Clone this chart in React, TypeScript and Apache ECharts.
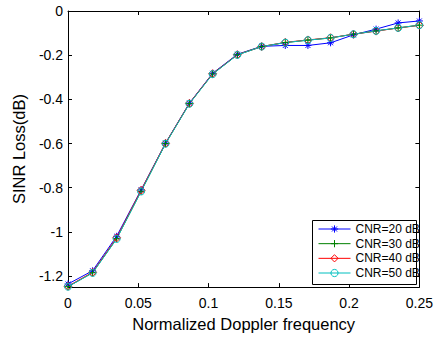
import React, { useEffect, useRef } from "react";
import * as echarts from "echarts";

const xValues = [0, 0.0175, 0.0346, 0.052, 0.0694, 0.0864, 0.1029, 0.1205, 0.1378, 0.1546, 0.1707, 0.1868, 0.2031, 0.2192, 0.2349, 0.25];
const cnr20 = [-1.236, -1.176, -1.02, -0.81, -0.598, -0.417, -0.282, -0.196, -0.16, -0.156, -0.156, -0.144, -0.108, -0.082, -0.054, -0.045];
const cnr30 = [-1.248, -1.185, -1.031, -0.816, -0.6, -0.419, -0.285, -0.198, -0.161, -0.143, -0.132, -0.122, -0.105, -0.09, -0.0765, -0.064];
const cnr40 = [-1.246, -1.183, -1.027, -0.812, -0.599, -0.418, -0.284, -0.198, -0.161, -0.142, -0.131, -0.121, -0.105, -0.091, -0.077, -0.065];
const cnr50 = [-1.248, -1.186, -1.032, -0.817, -0.601, -0.42, -0.286, -0.199, -0.161, -0.143, -0.132, -0.122, -0.105, -0.09, -0.0765, -0.064];
const seriesNames = ["CNR=20 dB", "CNR=30 dB", "CNR=40 dB", "CNR=50 dB"];
const yTicks = [0, -0.2, -0.4, -0.6, -0.8, -1, -1.2];

const FONT = "'Liberation Sans', Arial, sans-serif";
const STAR = "path://M0,-1L0,1M-1,0L1,0M-0.7,-0.7L0.7,0.7M-0.7,0.7L0.7,-0.7";
const PLUS = "path://M0,-1L0,1M-1,0L1,0";

const styles = [
  { color: "#0000ff", symbol: STAR, fill: "rgba(0,0,0,0)", size: 7 },
  { color: "#008000", symbol: PLUS, fill: "rgba(0,0,0,0)", size: 7 },
  { color: "#ff0000", symbol: "diamond", fill: "rgba(0,0,0,0)", size: 8 },
  { color: "#00bfbf", symbol: "circle", fill: "rgba(0,0,0,0)", size: 7 },
];

export default function App() {
  const ref = useRef<HTMLDivElement>(null);
  useEffect(() => {
    if (!ref.current) return;
    const chart = echarts.init(ref.current, undefined, { renderer: "svg" });
    const allValues = [cnr20, cnr30, cnr40, cnr50];
    const mk = (vals: number[]) => xValues.map((x, i) => [x, vals[i]]);
    const axisCommon = {
      axisLine: { show: true, onZero: false, lineStyle: { color: "#000", width: 1 } },
      axisTick: { show: true, inside: true, length: 4, lineStyle: { color: "#000" } },
      splitLine: { show: false },
    };
    const option: any = {
      animation: false,
      grid: { left: 68, top: 11, right: 16, bottom: 48 },
      xAxis: [
        {
          type: "value",
          min: 0,
          max: 0.25,
          interval: 0.05,
          position: "bottom",
          ...axisCommon,
          axisLabel: { color: "#000", fontSize: 14, fontFamily: FONT, margin: 9 },
          name: "Normalized Doppler frequency",
          nameLocation: "middle",
          nameGap: 24,
          nameTextStyle: { color: "#000", fontSize: 16.5, fontFamily: FONT },
        },
        {
          type: "value",
          min: 0,
          max: 0.25,
          interval: 0.05,
          position: "top",
          ...axisCommon,
          axisLabel: { show: false },
        },
      ],
      yAxis: [
        {
          type: "value",
          min: -1.25,
          max: 0,
          position: "left",
          ...axisCommon,
          axisTick: { ...axisCommon.axisTick, customValues: yTicks },
          axisLabel: { color: "#000", fontSize: 14, fontFamily: FONT, margin: 5, customValues: yTicks },
          name: "SINR Loss(dB)",
          nameLocation: "middle",
          nameGap: 35,
          nameTextStyle: { color: "#000", fontSize: 16.5, fontFamily: FONT },
        },
        {
          type: "value",
          min: -1.25,
          max: 0,
          position: "right",
          ...axisCommon,
          axisTick: { ...axisCommon.axisTick, customValues: yTicks },
          axisLabel: { show: false, customValues: yTicks },
        },
      ],
      legend: {
        orient: "vertical",
        left: 318,
        top: 222,
        itemWidth: 32,
        itemHeight: 9,
        itemGap: 0.67,
        padding: 0,
        z: 5,
        selectedMode: false,
        textStyle: { color: "#000", fontSize: 12, fontFamily: FONT, lineHeight: 14 },
        data: seriesNames.map((name, k) => ({
          name,
          itemStyle: { color: styles[k].fill, borderColor: styles[k].color, borderWidth: 1 },
          lineStyle: { color: styles[k].color, width: 1 },
        })),
      },
      graphic: [
        {
          type: "rect",
          z: 3,
          shape: { x: 312.5, y: 220.5, width: 104, height: 64 },
          style: { fill: "#fff", stroke: "#000", lineWidth: 1 },
        },
      ],
      series: seriesNames.map((name, k) => ({
        type: "line",
        name,
        data: mk(allValues[k]),
        symbol: styles[k].symbol,
        symbolSize: styles[k].size,
        lineStyle: { color: styles[k].color, width: 1 },
        itemStyle: { color: styles[k].fill, borderColor: styles[k].color, borderWidth: 1 },
        emphasis: { disabled: true },
        silent: true,
      })),
    };
    chart.setOption(option);
    return () => chart.dispose();
  }, []);
  return <div ref={ref} style={{ width: 436, height: 337, position: "absolute", left: 0, top: 0, background: "#fff" }} />;
}
